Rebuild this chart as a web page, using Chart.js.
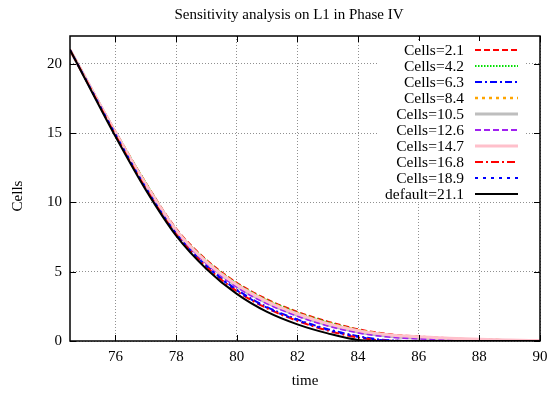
<!DOCTYPE html>
<html><head><meta charset="utf-8">
<script src="https://cdn.jsdelivr.net/npm/chart.js@4/dist/chart.umd.min.js"></script>
<style>html,body{margin:0;padding:0;background:#fff}#wrap{width:547px;height:393px}</style>
</head><body><div id="wrap"><canvas id="c" width="547" height="393"></canvas></div>
<script>
const TITLE = "Sensitivity analysis on L1 in Phase IV";
const X_LABEL = "time";
const Y_LABEL = "Cells";
const X_TICKS = [76, 78, 80, 82, 84, 86, 88, 90];
const Y_TICKS = [0, 5, 10, 15, 20];
const time = [74.5, 75, 76, 77, 78, 79, 80, 81, 82, 83, 84, 85, 86, 87, 88, 89, 90];
const seriesNames = ["Cells=2.1","Cells=4.2","Cells=6.3","Cells=8.4","Cells=10.5","Cells=12.6","Cells=14.7","Cells=16.8","Cells=18.9","default=21.1"];
const cells_2_1  = [21, 19.0, 15.1, 11.4, 8.1, 5.85, 4.2, 3.0, 2.1, 1.4, 0.85, 0.5, 0.32, 0.2, 0.12, 0.06, 0.03];
const cells_4_2  = [21, 19.0, 15.1, 11.4, 8.05, 5.8, 4.15, 2.95, 2.05, 1.35, 0.8, 0.45, 0.28, 0.17, 0.1, 0.05, 0.02];
const cells_6_3  = [21, 18.95, 14.9, 11.1, 7.8, 5.45, 3.7, 2.45, 1.55, 0.85, 0.35, 0.05, 0, 0, 0, 0, 0];
const cells_8_4  = [21, 19.0, 15.05, 11.35, 8.0, 5.75, 4.1, 2.9, 2.0, 1.3, 0.78, 0.45, 0.28, 0.16, 0.09, 0.05, 0.02];
const cells_10_5 = [21, 19.0, 15.0, 11.25, 7.95, 5.65, 3.95, 2.75, 1.85, 1.15, 0.65, 0.35, 0.2, 0.12, 0.07, 0.03, 0.01];
const cells_12_6 = [21, 19.0, 15.0, 11.2, 7.9, 5.6, 3.9, 2.7, 1.8, 1.1, 0.6, 0.3, 0.17, 0.1, 0.05, 0.02, 0.01];
const cells_14_7 = [21, 19.0, 15.05, 11.3, 8.0, 5.7, 4.05, 2.85, 1.95, 1.25, 0.75, 0.45, 0.3, 0.2, 0.12, 0.07, 0.03];
const cells_16_8 = [21, 18.95, 14.85, 11.0, 7.7, 5.35, 3.6, 2.35, 1.45, 0.75, 0.25, 0.02, 0, 0, 0, 0, 0];
const cells_18_9 = [21, 18.95, 14.9, 11.05, 7.75, 5.4, 3.65, 2.4, 1.5, 0.8, 0.3, 0.03, 0, 0, 0, 0, 0];
const default_21_1 = [21, 18.9, 14.75, 10.9, 7.6, 5.2, 3.4, 2.1, 1.2, 0.55, 0.08, 0, 0, 0, 0, 0, 0];
const seriesValues = [cells_2_1, cells_4_2, cells_6_3, cells_8_4, cells_10_5, cells_12_6, cells_14_7, cells_16_8, cells_18_9, default_21_1];

const styles = [
  {color:"#ff0000", dash:[6,3], width:2},
  {color:"#00e000", dash:[1.5,1.5], width:2},
  {color:"#0000ff", dash:[7,3,2,3], width:2},
  {color:"#ffa500", dash:[3,4], width:2.5},
  {color:"#bebebe", dash:[], width:3},
  {color:"#a020f0", dash:[6,3], width:2},
  {color:"#ffc0cb", dash:[], width:3},
  {color:"#ff0000", dash:[8,3,2,3], width:2},
  {color:"#0000ff", dash:[3,5], width:2},
  {color:"#000000", dash:[], width:2}
];

const FONT = "'Liberation Serif', 'DejaVu Serif', serif";

const datasets = seriesNames.map((name, i) => ({
  label: name,
  data: time.map((t, k) => ({x: t, y: seriesValues[i][k]})),
  borderColor: styles[i].color,
  borderDash: styles[i].dash,
  borderWidth: styles[i].width,
  pointRadius: 0,
  fill: false,
  tension: 0.4,
  cubicInterpolationMode: 'monotone',
  order: seriesNames.length - i
}));

const deco = {
  id: 'deco',
  afterDraw(chart) {
    const ctx = chart.ctx, a = chart.chartArea;
    const xs = chart.scales.x, ys = chart.scales.y;
    ctx.save();
    ctx.setLineDash([]);
    ctx.strokeStyle = '#000'; ctx.lineWidth = 1;
    ctx.beginPath();
    X_TICKS.forEach(v => { const px = Math.round(xs.getPixelForValue(v)) + 0.5;
      ctx.moveTo(px, a.bottom); ctx.lineTo(px, a.bottom - 6);
      ctx.moveTo(px, a.top); ctx.lineTo(px, a.top + 6); });
    Y_TICKS.forEach(v => { const py = Math.round(ys.getPixelForValue(v)) + 0.5;
      ctx.moveTo(a.left, py); ctx.lineTo(a.left + 6, py);
      ctx.moveTo(a.right, py); ctx.lineTo(a.right - 6, py); });
    ctx.stroke();
    ctx.fillStyle = '#fff';
    ctx.fillRect(378, 41, 146, 161);
    ctx.font = "15.5px " + FONT;
    ctx.textAlign = 'right'; ctx.textBaseline = 'middle';
    seriesNames.forEach((name, i) => {
      const y = 50 + i * 16;
      ctx.fillStyle = '#000';
      ctx.fillText(name, 464, y + 1);
      ctx.strokeStyle = styles[i].color;
      ctx.lineWidth = styles[i].width;
      ctx.setLineDash(styles[i].dash);
      ctx.beginPath(); ctx.moveTo(475, y); ctx.lineTo(518, y); ctx.stroke();
    });
    ctx.setLineDash([]);
    ctx.strokeStyle = '#000'; ctx.lineWidth = 1.5;
    ctx.strokeRect(a.left, a.top, a.right - a.left, a.bottom - a.top);
    ctx.fillStyle = '#000';
    ctx.textAlign = 'center'; ctx.textBaseline = 'alphabetic';
    ctx.font = "15px " + FONT;
    ctx.fillText(TITLE, 289, 19);
    ctx.fillText(X_LABEL, 305, 385);
    ctx.translate(22, 196); ctx.rotate(-Math.PI / 2);
    ctx.fillText(Y_LABEL, 0, 0);
    ctx.restore();
  }
};

new Chart(document.getElementById('c'), {
  type: 'line',
  data: { datasets },
  options: {
    responsive: false, animation: false, devicePixelRatio: 1,
    layout: { padding: { top: 36, right: 7, left: 0, bottom: 0 } },
    plugins: { legend: { display: false }, title: { display: false }, tooltip: { enabled: false } },
    scales: {
      x: {
        type: 'linear', min: 74.5, max: 90,
        afterBuildTicks: s => { s.ticks = X_TICKS.map(v => ({value: v})); },
        afterFit: s => { s.height = 52; s.paddingLeft = 0; s.paddingRight = 0; },
        grid: { color: '#909090', lineWidth: 1, drawTicks: false },
        border: { display: false, dash: [1, 2] },
        ticks: { color: '#000', font: { family: FONT, size: 15 }, padding: 7, maxRotation: 0, autoSkip: false }
      },
      y: {
        type: 'linear', min: 0, max: 22,
        afterBuildTicks: s => { s.ticks = Y_TICKS.map(v => ({value: v})); },
        afterFit: s => { s.width = 70; s.paddingTop = 0; s.paddingBottom = 0; },
        grid: { color: '#909090', lineWidth: 1, drawTicks: false },
        border: { display: false, dash: [1, 2] },
        ticks: { color: '#000', font: { family: FONT, size: 15 }, padding: 8, autoSkip: false }
      }
    }
  },
  plugins: [deco]
});
</script></body></html>
